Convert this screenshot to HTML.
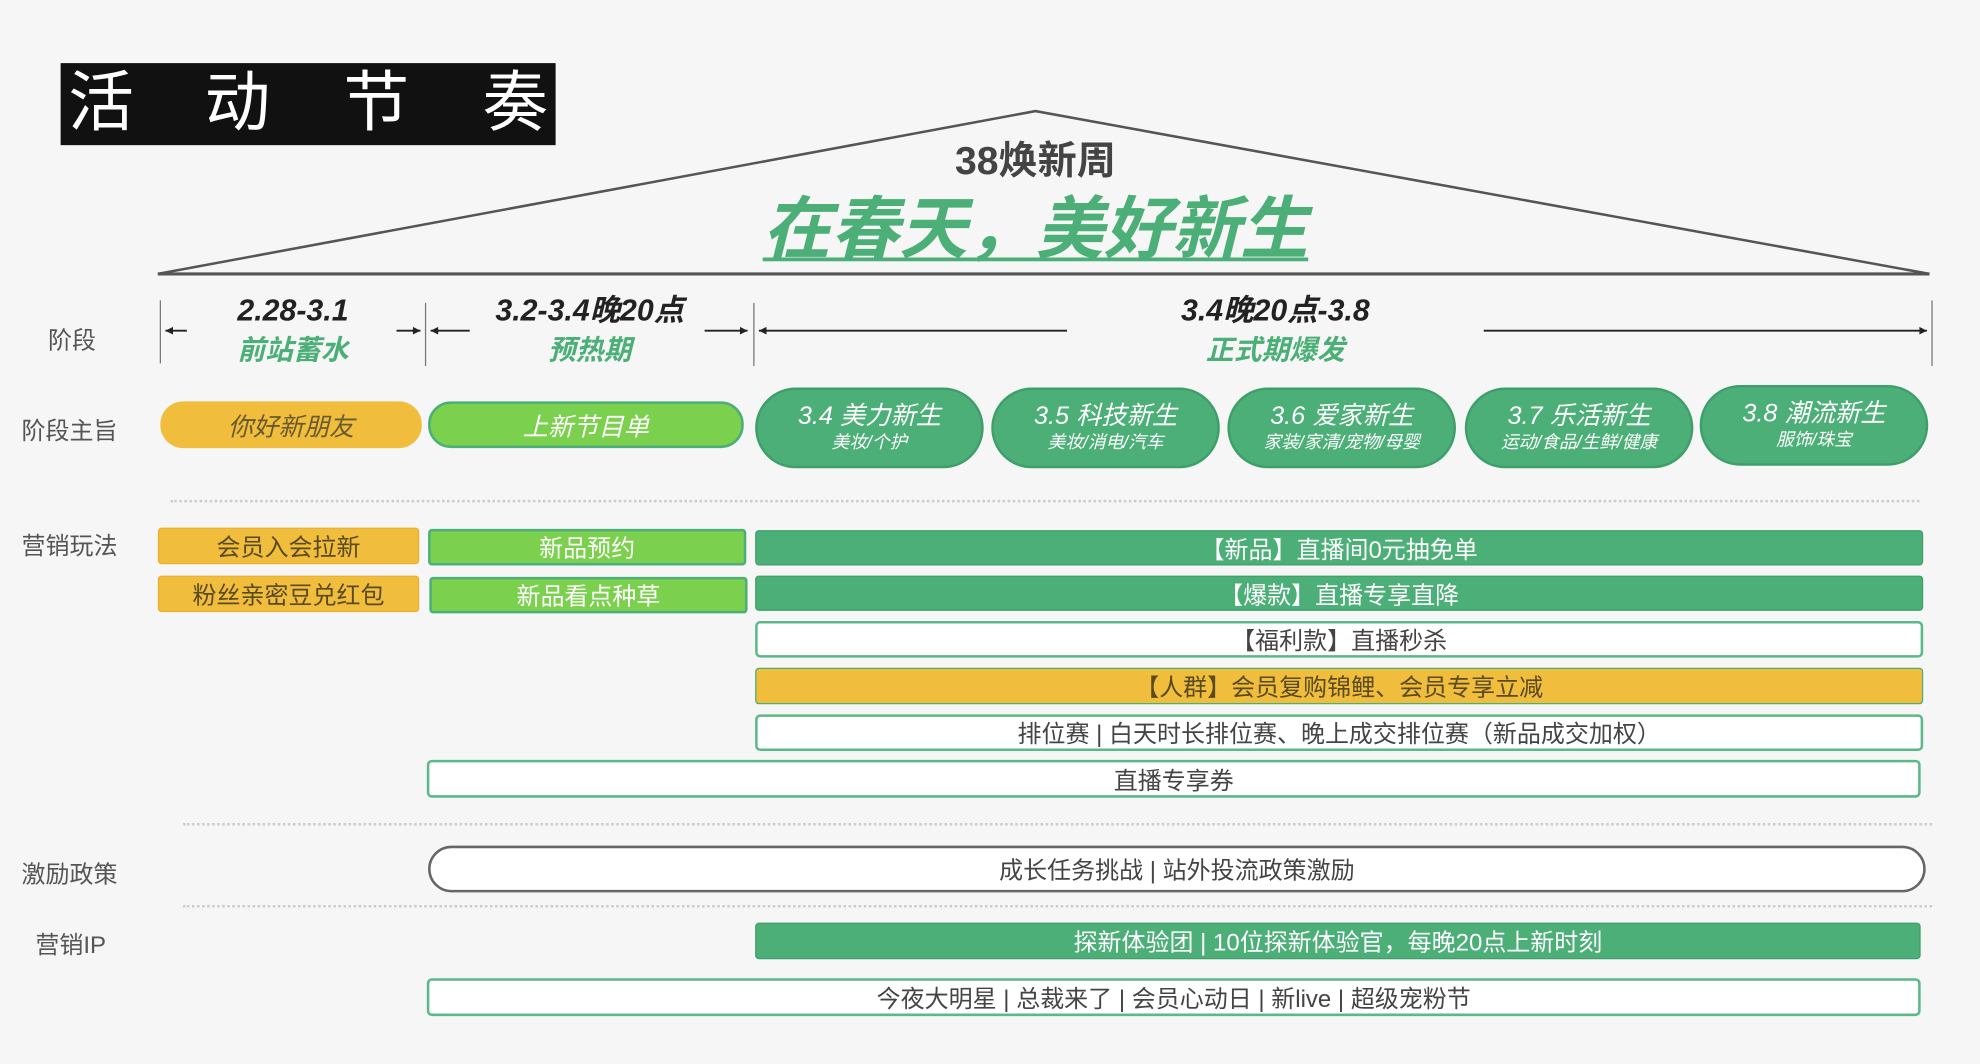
<!DOCTYPE html>
<html><head><meta charset="utf-8"><style>
html,body{margin:0;padding:0;background:#f6f6f6;overflow:hidden}
#w{position:absolute;left:0;top:0;width:1568px;height:843px;transform:scale(1.26276,1.2622);transform-origin:0 0;font-family:"Liberation Sans","Noto Sans CJK SC",sans-serif;color:#444}
.a{position:absolute;box-sizing:border-box;display:flex;align-items:center;justify-content:center;white-space:nowrap}
.lbl{position:absolute;font-size:19px;color:#555;white-space:nowrap}
.y{background:#f0bd3c;border:1.5px solid #e8b030;color:#5a4a20;font-size:19px;border-radius:3px}
.lg{background:#7bd04e;border:2px solid #4caf78;color:#fff;font-size:19px;border-radius:3px}
.dg{background:#4caf78;border:1.5px solid #3f9f6a;color:#fff;font-size:19px;border-radius:3px}
.o{background:#fff;border:2px solid #5cb888;color:#444;font-size:19px;border-radius:4px}
.pill{background:#4caf78;color:#fff;border-radius:32px;flex-direction:column;font-style:italic;border:2px solid #3f9f6a}
.pill b{font-weight:normal;font-size:20px;line-height:22px}
.pill i{font-size:14px;line-height:18px}
.dt{position:absolute;height:0;border-top:2px dotted #ccc}
.d{position:absolute;font-style:italic;font-weight:bold;white-space:nowrap;text-align:center;line-height:28px}
.t{position:absolute;top:50px;color:#fff;font-size:52px;line-height:65px}
</style></head><body><div id="w">
<div style="position:absolute;left:48px;top:50px;width:392px;height:65px;background:#111"></div>
<span class="t" style="left:54px">活</span><span class="t" style="left:162px">动</span><span class="t" style="left:272px">节</span><span class="t" style="left:382px">奏</span>
<svg style="position:absolute;left:0;top:0" width="1568" height="843">
<polyline points="125,217 820,88 1528,217" fill="none" stroke="#555" stroke-width="2"/>
<line x1="125" y1="217" x2="1528" y2="217" stroke="#555" stroke-width="2.5"/>
<g stroke="#777" stroke-width="1"><line x1="127" y1="238" x2="127" y2="288"/><line x1="337" y1="240" x2="337" y2="290"/><line x1="597" y1="240" x2="597" y2="290"/><line x1="1530" y1="238" x2="1530" y2="290"/></g>
<g stroke="#222" stroke-width="1.5"><line x1="131" y1="262" x2="148" y2="262"/><line x1="314" y1="262" x2="333" y2="262"/><line x1="341" y1="262" x2="372" y2="262"/><line x1="558" y1="262" x2="592" y2="262"/><line x1="601" y1="262" x2="845" y2="262"/><line x1="1175" y1="262" x2="1526" y2="262"/></g>
<g fill="#222"><polygon points="131,262 137,259 137,265"/><polygon points="333,262 327,259 327,265"/><polygon points="341,262 347,259 347,265"/><polygon points="592,262 586,259 586,265"/><polygon points="601,262 607,259 607,265"/><polygon points="1526,262 1520,259 1520,265"/></g>
</svg>
<div class="d" style="left:620px;width:400px;top:110px;font-style:normal;font-size:31px;color:#444;line-height:36px">38焕新周</div>
<div class="d" style="left:540px;width:560px;top:150px;font-size:54px;color:#4caf78;text-decoration:underline;text-decoration-thickness:3px;text-underline-offset:4px;line-height:64px">在春天，美好新生</div>
<div class="lbl" style="left:38px;top:255px">阶段</div>
<div class="d" style="left:132px;width:200px;top:233px;font-size:24px;color:#222">2.28-3.1</div>
<div class="d" style="left:132px;width:200px;top:264px;font-size:22px;color:#4caf78">前站蓄水</div>
<div class="d" style="left:367px;width:200px;top:233px;font-size:24px;color:#222">3.2-3.4晚20点</div>
<div class="d" style="left:367px;width:200px;top:264px;font-size:22px;color:#4caf78">预热期</div>
<div class="d" style="left:860px;width:300px;top:233px;font-size:24px;color:#222">3.4晚20点-3.8</div>
<div class="d" style="left:860px;width:300px;top:264px;font-size:22px;color:#4caf78">正式期爆发</div>
<div class="lbl" style="left:17px;top:327px">阶段主旨</div>
<div class="a" style="left:127px;top:318px;width:207px;height:37px;border-radius:18px;background:#f0bd3c;color:#6a5a30;font-size:20px;font-style:italic">你好新朋友</div>
<div class="a" style="left:339px;top:318px;width:250px;height:37px;border-radius:18px;background:#7bd04e;border:2px solid #4caf78;color:#fff;font-size:20px;font-style:italic">上新节目单</div>
<div class="a pill" style="left:598px;top:307px;width:181px;height:64px"><b>3.4 美力新生</b><i>美妆/个护</i></div>
<div class="a pill" style="left:785px;top:307px;width:181px;height:64px"><b>3.5 科技新生</b><i>美妆/消电/汽车</i></div>
<div class="a pill" style="left:972px;top:307px;width:181px;height:64px"><b>3.6 爱家新生</b><i>家装/家清/宠物/母婴</i></div>
<div class="a pill" style="left:1160px;top:307px;width:181px;height:64px"><b>3.7 乐活新生</b><i>运动/食品/生鲜/健康</i></div>
<div class="a pill" style="left:1346px;top:305px;width:181px;height:64px"><b>3.8 潮流新生</b><i>服饰/珠宝</i></div>
<div class="dt" style="left:135px;width:1385px;top:396px"></div>
<div class="lbl" style="left:17px;top:418px">营销玩法</div>
<div class="a y" style="left:125px;top:418px;width:207px;height:29px">会员入会拉新</div>
<div class="a y" style="left:125px;top:456px;width:207px;height:29px">粉丝亲密豆兑红包</div>
<div class="a lg" style="left:339px;top:419px;width:252px;height:29px">新品预约</div>
<div class="a lg" style="left:340px;top:457px;width:252px;height:29px">新品看点种草</div>
<div class="a dg" style="left:598px;top:420px;width:925px;height:28px">【新品】直播间0元抽免单</div>
<div class="a dg" style="left:598px;top:456px;width:925px;height:28px">【爆款】直播专享直降</div>
<div class="a o" style="left:598px;top:492px;width:925px;height:29px">【福利款】直播秒杀</div>
<div class="a y" style="left:598px;top:529px;width:925px;height:29px;border:1.5px solid #4caf78">【人群】会员复购锦鲤、会员专享立减</div>
<div class="a o" style="left:598px;top:566px;width:925px;height:29px">排位赛 | 白天时长排位赛、晚上成交排位赛（新品成交加权）</div>
<div class="a o" style="left:338px;top:602px;width:1183px;height:30px">直播专享券</div>
<div class="dt" style="left:145px;width:1385px;top:652px"></div>
<div class="lbl" style="left:17px;top:678px">激励政策</div>
<div class="a o" style="left:339px;top:670px;width:1186px;height:37px;border-radius:19px;border-color:#666">成长任务挑战 | 站外投流政策激励</div>
<div class="dt" style="left:145px;width:1385px;top:717px"></div>
<div class="lbl" style="left:28px;top:734px">营销IP</div>
<div class="a dg" style="left:598px;top:731px;width:923px;height:29px">探新体验团 | 10位探新体验官，每晚20点上新时刻</div>
<div class="a o" style="left:338px;top:775px;width:1183px;height:30px">今夜大明星 | 总裁来了 | 会员心动日 | 新live | 超级宠粉节</div>
</div></body></html>
